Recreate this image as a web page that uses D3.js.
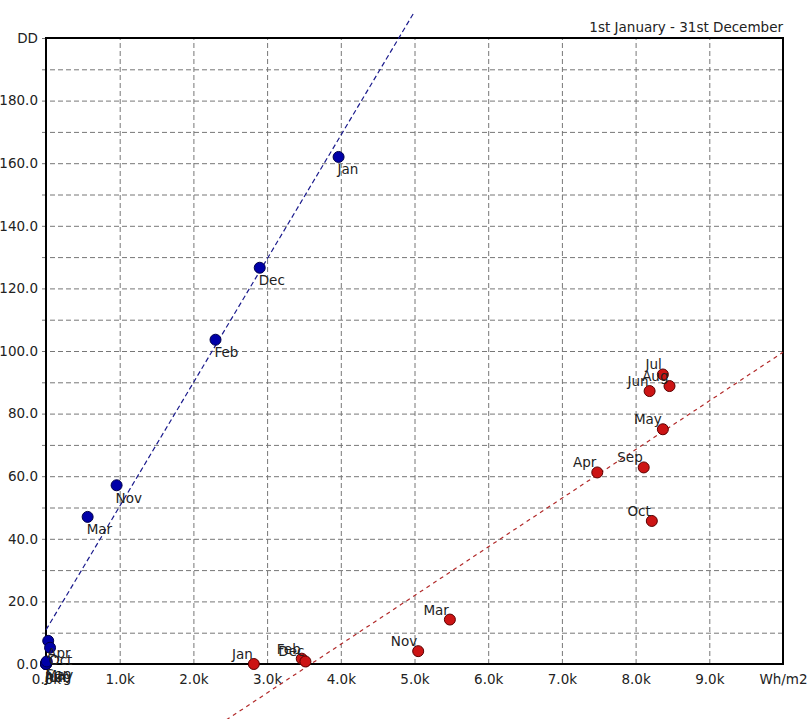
<!DOCTYPE html>
<html>
<head>
<meta charset="utf-8">
<script src="https://cdn.jsdelivr.net/npm/d3@7/dist/d3.min.js"></script>
<style>
body { margin: 0; background: #fff; overflow: hidden; }
text { font-family: "DejaVu Sans", sans-serif; font-size: 13.5px; fill: #222; }
</style>
</head>
<body>
<script>
const width = 810;
const height = 719;

// months, same order for both series
const months = ["Jan", "Feb", "Mar", "Apr", "May", "Jun", "Jul", "Aug", "Sep", "Oct", "Nov", "Dec"];

// blue series (heating)
const heatingX = [3970, 2300, 565, 30, 5, 0, 0, 0, 10, 55, 958, 2900];
const heatingDD = [162, 103.6, 47, 7.4, 0.5, 0, 0, 0, 0.8, 5.2, 57.1, 126.6];

// red series (cooling)
const coolingX = [2820, 3470, 5480, 7480, 8370, 8190, 8370, 8460, 8110, 8220, 5050, 3520];
const coolingDD = [0, 1.7, 14.2, 61.2, 75, 87.2, 92.5, 88.8, 62.8, 45.7, 4.1, 0.8];

// trend lines: [intercept, slope per Wh/m2], and x range
const heatingTrend = [10.9, 0.0395];
const heatingTrendRange = [0, 5000];
const coolingTrend = [-55.9, 0.01555];
const coolingTrendRange = [0, 10000];

const xTicks = [0, 1000, 2000, 3000, 4000, 5000, 6000, 7000, 8000, 9000, 10000];
const yTicks = [0, 10, 20, 30, 40, 50, 60, 70, 80, 90, 100, 110, 120, 130, 140, 150, 160, 170, 180, 190, 200];
const xUnit = "Wh/m2";
const yUnit = "DD";
const title = "1st January - 31st December";

const margin = { top: 38, right: 27, bottom: 55, left: 46 };
const plotW = width - margin.left - margin.right;
const plotH = height - margin.top - margin.bottom;

const svg = d3.select("body")
  .append("svg")
  .attr("width", width)
  .attr("height", height);

svg.append("rect")
  .attr("width", width)
  .attr("height", height)
  .attr("fill", "#fff");

const g = svg.append("g")
  .attr("transform", `translate(${margin.left},${margin.top})`);

const x = d3.scaleLinear().domain([0, 10000]).range([0, plotW]);
const y = d3.scaleLinear().domain([0, 200]).range([plotH, 0]);

// y axis with grid
const yAxis = g.append("g")
  .call(d3.axisLeft(y)
    .tickValues(yTicks)
    .tickSize(-plotW)
    .tickPadding(8)
    .tickFormat(d => d === 200 ? yUnit : (d % 20 === 0 ? d3.format(".1f")(d) : "")));
yAxis.select(".domain").remove();
yAxis.selectAll("line")
  .attr("x1", -4)
  .attr("stroke", "#777")
  .attr("stroke-dasharray", "5,3");
yAxis.selectAll("text")
  .style("font-family", "DejaVu Sans, sans-serif")
  .style("font-size", "13.5px")
  .attr("fill", "#222");

// x axis with grid
const xAxis = g.append("g")
  .attr("transform", `translate(0,${plotH})`)
  .call(d3.axisBottom(x)
    .tickValues(xTicks)
    .tickSize(-plotH)
    .tickPadding(10)
    .tickFormat(d => d === 10000 ? xUnit : (d / 1000).toFixed(1) + "k"));
xAxis.select(".domain").remove();
xAxis.selectAll("line")
  .attr("stroke", "#777")
  .attr("stroke-dasharray", "5,3");
xAxis.selectAll("text")
  .style("font-family", "DejaVu Sans, sans-serif")
  .style("font-size", "13.5px")
  .attr("fill", "#222");

// plot frame
g.append("rect")
  .attr("width", plotW)
  .attr("height", plotH)
  .attr("fill", "none")
  .attr("stroke", "#000")
  .attr("stroke-width", 2);

// title
svg.append("text")
  .attr("x", margin.left + plotW)
  .attr("y", 32)
  .attr("text-anchor", "end")
  .text(title);

// trend lines (not clipped, like the original)
function trendLine(trend, range, color, dash) {
  const pts = range.map(v => [v, trend[0] + trend[1] * v]);
  g.append("path")
    .datum(pts)
    .attr("fill", "none")
    .attr("stroke", color)
    .attr("stroke-width", 1.2)
    .attr("stroke-dasharray", dash)
    .attr("d", d3.line().x(d => x(d[0])).y(d => y(d[1])));
}
trendLine(heatingTrend, heatingTrendRange, "#1a1a8c", "5,3");
trendLine(coolingTrend, coolingTrendRange, "#b22a2a", "4,4");

const heating = months.map((m, i) => ({ m, x: heatingX[i], v: heatingDD[i] }));
const cooling = months.map((m, i) => ({ m, x: coolingX[i], v: coolingDD[i] }));

// points
g.selectAll(".heat")
  .data(heating)
  .enter().append("circle")
  .attr("class", "heat")
  .attr("cx", d => x(d.x))
  .attr("cy", d => y(d.v))
  .attr("r", 5.5)
  .attr("fill", "#0000a8")
  .attr("stroke", "#00004a")
  .attr("stroke-width", 1);

g.selectAll(".cool")
  .data(cooling)
  .enter().append("circle")
  .attr("class", "cool")
  .attr("cx", d => x(d.x))
  .attr("cy", d => y(d.v))
  .attr("r", 5.5)
  .attr("fill", "#cc1414")
  .attr("stroke", "#5a0000")
  .attr("stroke-width", 1);

// labels
g.selectAll(".heatLabel")
  .data(heating)
  .enter().append("text")
  .attr("class", "heatLabel")
  .attr("x", d => x(d.x) - 1)
  .attr("y", d => y(d.v) + 17.5)
  .attr("text-anchor", "start")
  .text(d => d.m);

g.selectAll(".coolLabel")
  .data(cooling)
  .enter().append("text")
  .attr("class", "coolLabel")
  .attr("x", d => x(d.x) - 1)
  .attr("y", d => y(d.v) - 5)
  .attr("text-anchor", "end")
  .text(d => d.m);
</script>
</body>
</html>
